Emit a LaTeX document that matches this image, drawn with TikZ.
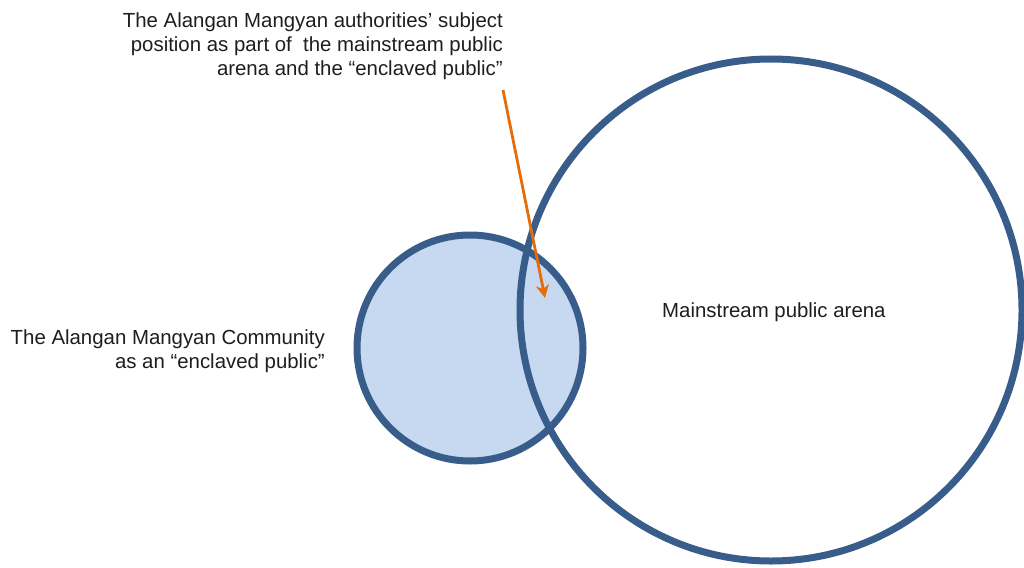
\documentclass[tikz,border=0pt]{standalone}
\usepackage{fontspec}
\setmainfont{Liberation Sans}
\usetikzlibrary{arrows.meta}
\definecolor{ringblue}{RGB}{56,93,138}
\definecolor{lightfill}{RGB}{198,217,241}
\definecolor{arroworange}{RGB}{228,108,10}
\definecolor{txt}{RGB}{30,30,30}
\tikzset{
  ring/.style={circle, draw=ringblue, line width=7pt, inner sep=0pt, outer sep=0pt},
  lbl/.style={text=txt, font=\fontsize{20.4}{24}\selectfont, inner sep=0pt, align=right},
  pointer/.style={draw=arroworange, line width=2.8pt, -{Stealth[length=13pt,width=13pt,inset=4pt]}}
}
\begin{document}
\begin{tikzpicture}[x=1pt,y=-1pt]
\useasboundingbox (0,0) rectangle (1024,567);
\node[ring, fill=lightfill, minimum size=226pt] (small) at (470,348) {};
\node[ring, minimum size=502pt] (big) at (771,310) {};
\node[lbl, anchor=east] (toplbl) at (503,46) {The Alangan Mangyan authorities’ subject\\position as part of\ \ the mainstream public\\arena and the “enclaved public”};
\node[lbl, anchor=east] (leftlbl) at (325,351) {The Alangan Mangyan Community\\as an “enclaved public”};
\node[lbl, anchor=west, align=left] (mainlbl) at (662,312) {Mainstream public arena};
\coordinate (as) at (503,90);
\coordinate (ae) at (545,298);
\draw[pointer] (as) -- (ae);
\end{tikzpicture}
\end{document}
